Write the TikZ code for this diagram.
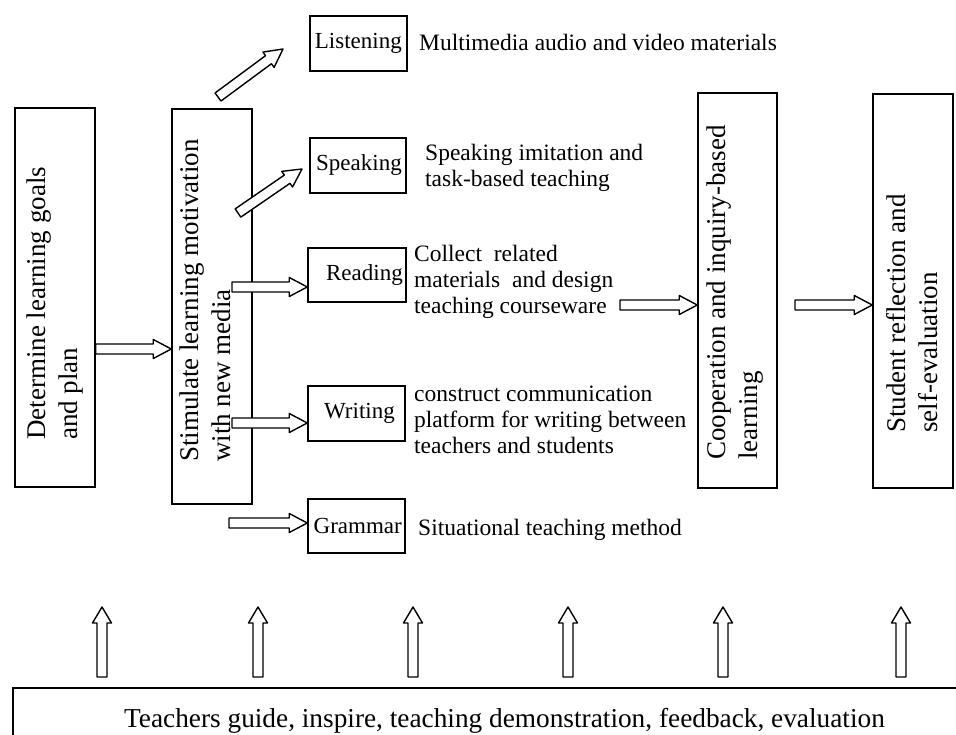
\documentclass[tikz,border=0pt]{standalone}
\usepackage{fontspec}
\setmainfont{Liberation Serif}
\usetikzlibrary{calc}
\tikzset{
  box/.style={draw, line width=1.5pt, inner sep=0pt},
  lbl/.style={inner sep=0pt, align=left, font=\fontsize{23.5}{26}\selectfont},
  boxlbl/.style={inner sep=0pt, font=\fontsize{23}{26}\selectfont},
  vlbl/.style={inner sep=0pt, rotate=90, align=left, font=\fontsize{27}{32}\selectfont},
  harrowline/.style={draw, line width=1.4pt, fill=white, line join=round}
}
\newcommand\harrow[3][18]{%
  \path[harrowline] let \p1=#2, \p2=#3,
    \n1={atan2(\y2-\y1,\x2-\x1)}, \n2={veclen(\x2-\x1,\y2-\y1)} in
    [shift={(\p1)}, rotate=\n1]
    (0,-5) -- (\n2-#1,-5) -- (\n2-#1,-9.5) -- (\n2,0) -- (\n2-#1,9.5) -- (\n2-#1,5) -- (0,5) -- cycle;}
\begin{document}
\begin{tikzpicture}[x=1pt,y=-1pt]
\useasboundingbox (0,0) rectangle (956,735);
% main vertical boxes
\node[box, minimum width=80, minimum height=379] (b1) at (55,297.5) {};
\node[vlbl, anchor=west] (b1t) at (55,440) {Determine learning goals\\and plan};
\node[box, minimum width=80, minimum height=395] (b2) at (212,306.5) {};
\node[vlbl, anchor=west] (b2t) at (205,462) {Stimulate learning motivation\\with new media};
\node[box, minimum width=79, minimum height=395] (coop) at (737.5,290.5) {};
\node[vlbl, anchor=west] (coopt) at (735,460) {Cooperation and inquiry-based\\learning};
\node[box, minimum width=80, minimum height=394] (stud) at (913,291) {};
\node[vlbl, anchor=west] (studt) at (912,433) {Student reflection and\\self-evaluation};
% skill boxes
\node[box, minimum width=97, minimum height=55] (listen) at (358.5,43.5) {};
\node[boxlbl, anchor=east] (listent) at (402,43.5) {Listening};
\node[box, minimum width=96, minimum height=55] (speak) at (358,165.5) {};
\node[boxlbl, anchor=east] (speakt) at (402,165.5) {Speaking};
\node[box, minimum width=98, minimum height=54] (read) at (357,275) {};
\node[boxlbl, anchor=east] (readt) at (403,275) {Reading};
\node[box, minimum width=97, minimum height=55] (write) at (356.5,413.5) {};
\node[boxlbl, anchor=east] (writet) at (395,413.5) {Writing};
\node[box, minimum width=97, minimum height=54] (gram) at (356.5,526) {};
\node[boxlbl, anchor=east] (gramt) at (402,526) {Grammar};
% labels
\node[lbl, anchor=base west] (l1) at (419,51) {Multimedia audio and video materials};
\node[lbl, anchor=west] (l2) at (425,168) {Speaking imitation and\\task-based teaching};
\node[lbl, anchor=west] (l3) at (414,282) {Collect\ \ related\\materials\ \ and design\\teaching courseware};
\node[lbl, anchor=west] (l4) at (414,420) {construct communication\\platform for writing between\\teachers and students};
\node[lbl, anchor=base west] (l5) at (418,535) {Situational teaching method};
% bottom box
\draw[line width=1.5pt] (13,740) -- (13,688) coordinate (teachTL) -- (960,688) coordinate (teachTR);
\node[inner sep=0pt, anchor=base, font=\fontsize{27.3}{32}\selectfont] (teach) at (504.5,727) {Teachers guide, inspire, teaching demonstration, feedback, evaluation};
% arrows
\harrow{(b1.east |- 0,349)}{(b2.west |- 0,349)}
\coordinate (ls) at (218,97); \coordinate (le) at (283,49);
\harrow{(ls)}{(le)}
\coordinate (ss) at (238,213); \coordinate (se) at (302,169);
\harrow{(ss)}{(se)}
\harrow{(232,287)}{(read.west |- 0,287)}
\harrow{(232,423)}{(write.west |- 0,423)}
\harrow{(229,523)}{(gram.west |- 0,523)}
\harrow{(620,305)}{(coop.west |- 0,305)}
\harrow{(795,305)}{(stud.west |- 0,305)}
\foreach \xx in {102,258,413,568,723,901}{
  \harrow[16]{(\xx,677)}{(\xx,607)}
}
\end{tikzpicture}
\end{document}
